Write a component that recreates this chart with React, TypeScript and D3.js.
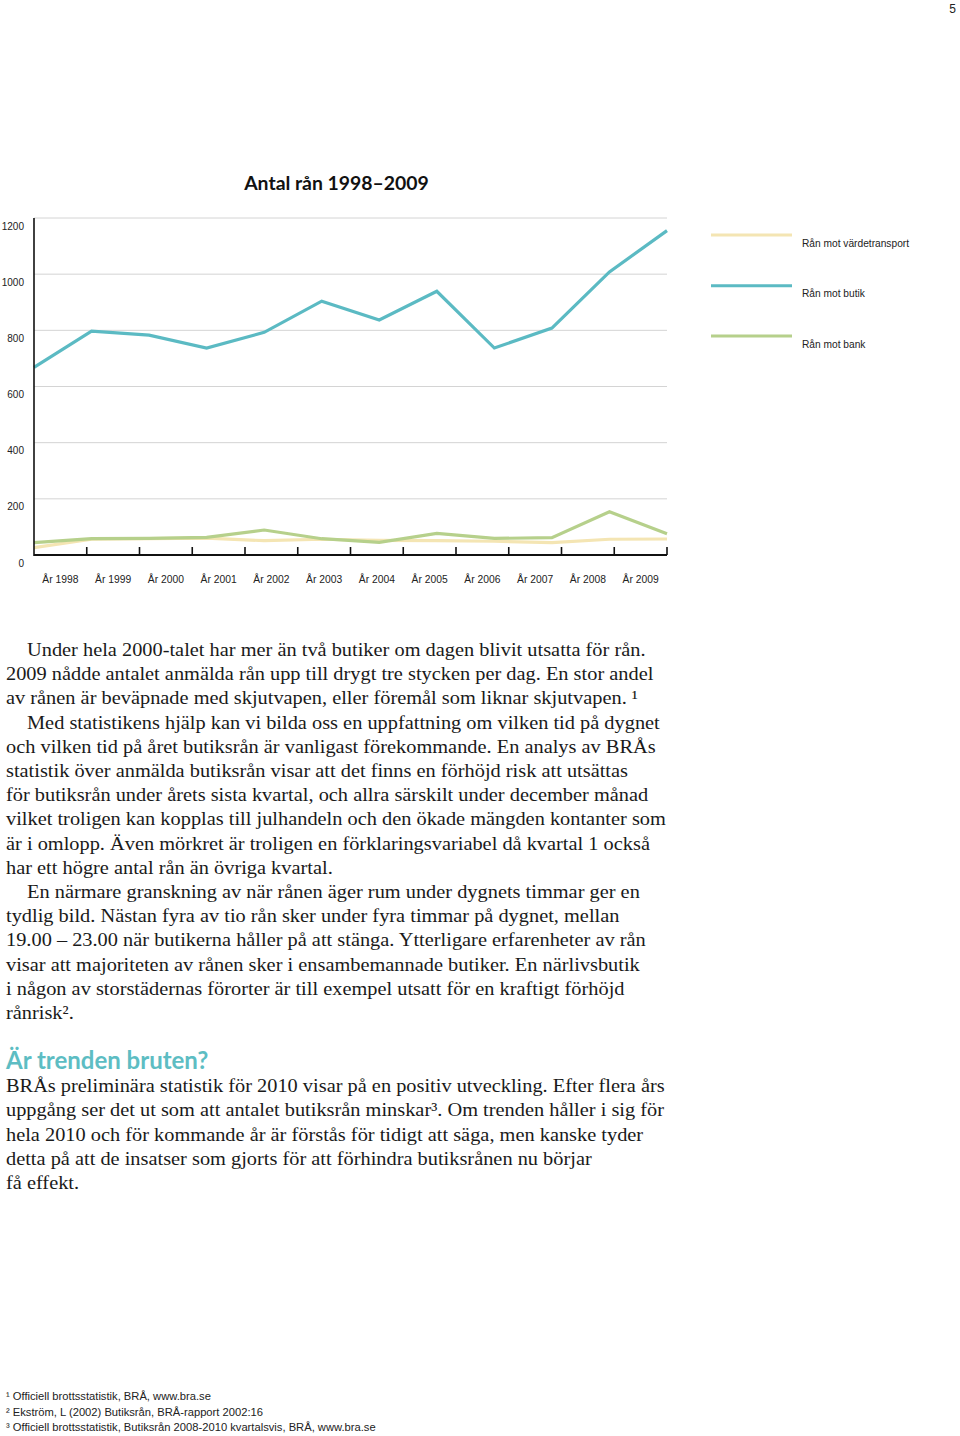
import React from "react";
import * as d3 from "d3";

const years = ["1998","1999","2000","2001","2002","2003","2004","2005","2006","2007","2008","2009"];
const yearLabels = years.map((y) => `År ${y}`);
const butik = [668, 797, 783, 737, 793, 904, 837, 939, 737, 808, 1008, 1155];
const bank = [44, 58, 59, 63, 89, 58, 45, 77, 59, 62, 154, 76];
const vardetransport = [26, 56, 58, 60, 51, 56, 52, 51, 49, 44, 56, 57];
const yTicks = [0, 200, 400, 600, 800, 1000, 1200];

const seriesNames = ["Rån mot värdetransport", "Rån mot butik", "Rån mot bank"];
const seriesColors = ["#f4e5b3", "#5bbac3", "#b6d08b"];

const title = "Antal rån 1998–2009";

const block1: [string, boolean][] = [
  ["Under hela 2000-talet har mer än två butiker om dagen blivit utsatta för rån.", true],
  ["2009 nådde antalet anmälda rån upp till drygt tre stycken per dag. En stor andel", false],
  ["av rånen är beväpnade med skjutvapen, eller föremål som liknar skjutvapen. ¹", false],
  ["Med statistikens hjälp kan vi bilda oss en uppfattning om vilken tid på dygnet", true],
  ["och vilken tid på året butiksrån är vanligast förekommande. En analys av BRÅs", false],
  ["statistik över anmälda butiksrån visar att det finns en förhöjd risk att utsättas", false],
  ["för butiksrån under årets sista kvartal, och allra särskilt under december månad", false],
  ["vilket troligen kan kopplas till julhandeln och den ökade mängden kontanter som", false],
  ["är i omlopp. Även mörkret är troligen en förklaringsvariabel då kvartal 1 också", false],
  ["har ett högre antal rån än övriga kvartal.", false],
  ["En närmare granskning av när rånen äger rum under dygnets timmar ger en", true],
  ["tydlig bild. Nästan fyra av tio rån sker under fyra timmar på dygnet, mellan", false],
  ["19.00 – 23.00 när butikerna håller på att stänga. Ytterligare erfarenheter av rån", false],
  ["visar att majoriteten av rånen sker i ensambemannade butiker. En närlivsbutik", false],
  ["i någon av storstädernas förorter är till exempel utsatt för en kraftigt förhöjd", false],
  ["rånrisk².", false],
];

const heading = "Är trenden bruten?";

const block2: string[] = [
  "BRÅs preliminära statistik för 2010 visar på en positiv utveckling. Efter flera års",
  "uppgång ser det ut som att antalet butiksrån minskar³. Om trenden håller i sig för",
  "hela 2010 och för kommande år är förstås för tidigt att säga, men kanske tyder",
  "detta på att de insatser som gjorts för att förhindra butiksrånen nu börjar",
  "få effekt.",
];

const footnotes = [
  ["¹", "Officiell brottsstatistik, BRÅ, www.bra.se"],
  ["²", "Ekström, L (2002) Butiksrån, BRÅ-rapport 2002:16"],
  ["³", "Officiell brottsstatistik, Butiksrån 2008-2010 kvartalsvis, BRÅ, www.bra.se"],
];

const SANS = "'Liberation Sans', Arial, Helvetica, sans-serif";
const SERIF = "'Liberation Serif', 'Times New Roman', serif";
const TITLE_FONT = "Lato, 'Open Sans', sans-serif";
const BODY_SIZE = 19;
const BODY_SCALE = 1.072;

export default function App() {
  const x0 = 34, x1 = 667;
  const y = d3.scaleLinear().domain([0, 1200]).range([555, 218]);
  const xp = d3.scalePoint<string>().domain(years).range([x0, x1]);
  const xb = d3.scaleBand<string>().domain(years).range([x0, x1]);
  const line = d3
    .line<number>()
    .x((_, i) => xp(years[i]) as number)
    .y((d) => y(d));
  const series = [vardetransport, butik, bank];
  const drawOrder = [1, 0, 2];
  const tickXs = years.slice(1).map((yr) => xb(yr) as number).concat([x1]);
  const legendY = [235, 285.7, 336];

  return (
    <svg width={960} height={1436} style={{ position: "absolute", left: 0, top: 0 }}>
      <rect width={960} height={1436} fill="#ffffff" />
      <text x={956} y={13} textAnchor="end" fontFamily={SANS} fontSize={12} fill="#222">5</text>

      <text x={336.5} y={190} textAnchor="middle" fontFamily={TITLE_FONT} fontWeight={700} fontSize={19.4} fill="#111">
        {title}
      </text>

      {yTicks.filter((t) => t > 0).map((t) => (
        <line key={t} x1={x0} x2={x1} y1={y(t)} y2={y(t)} stroke="#d4d4d4" strokeWidth={1} />
      ))}
      {yTicks.map((t) => (
        <text key={t} x={24} y={y(t) + 11.5} textAnchor="end" fontFamily={SANS} fontSize={10} fill="#222">
          {t}
        </text>
      ))}

      {drawOrder.map((si) => (
        <path
          key={si}
          d={line(series[si]) || ""}
          fill="none"
          stroke={seriesColors[si]}
          strokeWidth={3.2}
          strokeLinejoin="miter"
        />
      ))}

      <line x1={x0} x2={x0} y1={218} y2={556} stroke="#111" strokeWidth={1.6} />
      <line x1={x0} x2={x1} y1={555} y2={555} stroke="#111" strokeWidth={2} />
      {tickXs.map((tx, i) => (
        <line key={i} x1={tx} x2={tx} y1={547} y2={555} stroke="#111" strokeWidth={1.6} />
      ))}
      {years.map((yr, i) => (
        <text
          key={yr}
          x={(xb(yr) as number) + xb.bandwidth() / 2}
          y={583}
          textAnchor="middle"
          fontFamily={SANS}
          fontSize={10.3}
          fill="#222"
        >
          {yearLabels[i]}
        </text>
      ))}

      {seriesNames.map((n, i) => (
        <g key={n}>
          <line x1={711} x2={792} y1={legendY[i]} y2={legendY[i]} stroke={seriesColors[i]} strokeWidth={3} />
          <text x={802} y={legendY[i] + 11.5} fontFamily={SANS} fontSize={10.2} fill="#222">
            {n}
          </text>
        </g>
      ))}

      {block1.map(([t, indent], i) => (
        <text
          key={i}
          transform={`translate(${indent ? 27 : 6},${656 + i * 24.2}) scale(${BODY_SCALE},1)`}
          fontFamily={SERIF}
          fontSize={BODY_SIZE}
          fill="#1a1a1a"
        >
          {t}
        </text>
      ))}

      <text x={6} y={1068.5} fontFamily={TITLE_FONT} fontWeight={700} fontSize={24} fill="#5dbdc3">
        {heading}
      </text>

      {block2.map((t, i) => (
        <text
          key={i}
          transform={`translate(6,${1092 + i * 24.25}) scale(${BODY_SCALE},1)`}
          fontFamily={SERIF}
          fontSize={BODY_SIZE}
          fill="#1a1a1a"
        >
          {t}
        </text>
      ))}

      {footnotes.map(([s, t], i) => (
        <text key={i} x={6} y={1400 + i * 15.5} fontFamily={SANS} fontSize={11.2} fill="#222">
          <tspan fontSize={11}>{s}</tspan> {t}
        </text>
      ))}
    </svg>
  );
}
